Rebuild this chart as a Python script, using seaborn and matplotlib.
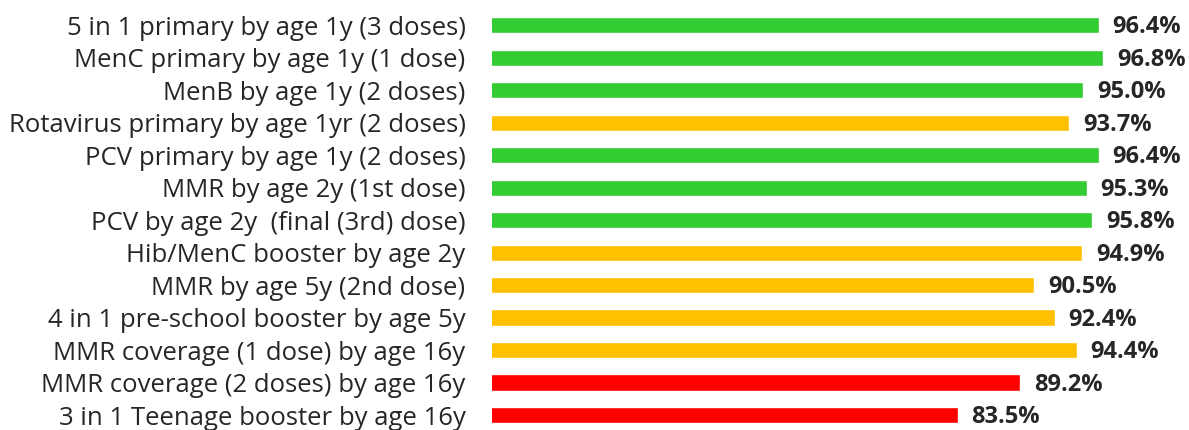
import matplotlib
matplotlib.use("Agg")
import matplotlib.pyplot as plt
import seaborn as sns
import pandas as pd

# Vaccination coverage by programme
labels = [
    "5 in 1 primary by age 1y (3 doses)",
    "MenC primary by age 1y (1 dose)",
    "MenB by age 1y (2 doses)",
    "Rotavirus primary by age 1yr (2 doses)",
    "PCV primary by age 1y (2 doses)",
    "MMR by age 2y (1st dose)",
    "PCV by age 2y  (final (3rd) dose)",
    "Hib/MenC booster by age 2y",
    "MMR by age 5y (2nd dose)",
    "4 in 1 pre-school booster by age 5y",
    "MMR coverage (1 dose) by age 16y",
    "MMR coverage (2 doses) by age 16y",
    "3 in 1 Teenage booster by age 16y",
]
coverage = [96.4, 96.8, 95.0, 93.7, 96.4, 95.3, 95.8, 94.9, 90.5, 92.4, 94.4, 89.2, 83.5]
status = ["green", "green", "green", "amber", "green", "green", "green",
          "amber", "amber", "amber", "amber", "red", "red"]
palette = {"green": "#33CC33", "amber": "#FFC000", "red": "#FF0000"}

df = pd.DataFrame({"label": labels, "coverage": coverage, "status": status})

sns.set_style("white")
plt.rcParams["font.family"] = ["Open Sans", "DejaVu Sans"]

fig = plt.figure(figsize=(11.89, 4.30), dpi=100)
ax = fig.add_axes([0.4138, -0.003, 0.5432, 0.982])

sns.barplot(data=df, x="coverage", y="label", hue="status", palette=palette,
            dodge=False, legend=False, width=0.5, saturation=1, ax=ax)

ax.set_xlim(40.9, 100)
ax.set_xlabel("")
ax.set_ylabel("")
ax.set_xticks([])
ax.tick_params(axis="y", length=0, pad=19, labelsize=18.5)
for s in ax.spines.values():
    s.set_visible(False)

for i, v in enumerate(coverage):
    ax.annotate(f"{v:.1f}%", xy=(v, i), xytext=(10, -1.5), textcoords="offset points",
                va="center", ha="left", fontsize=17, fontweight="bold", annotation_clip=False)

fig.savefig("out.png", dpi=100)
